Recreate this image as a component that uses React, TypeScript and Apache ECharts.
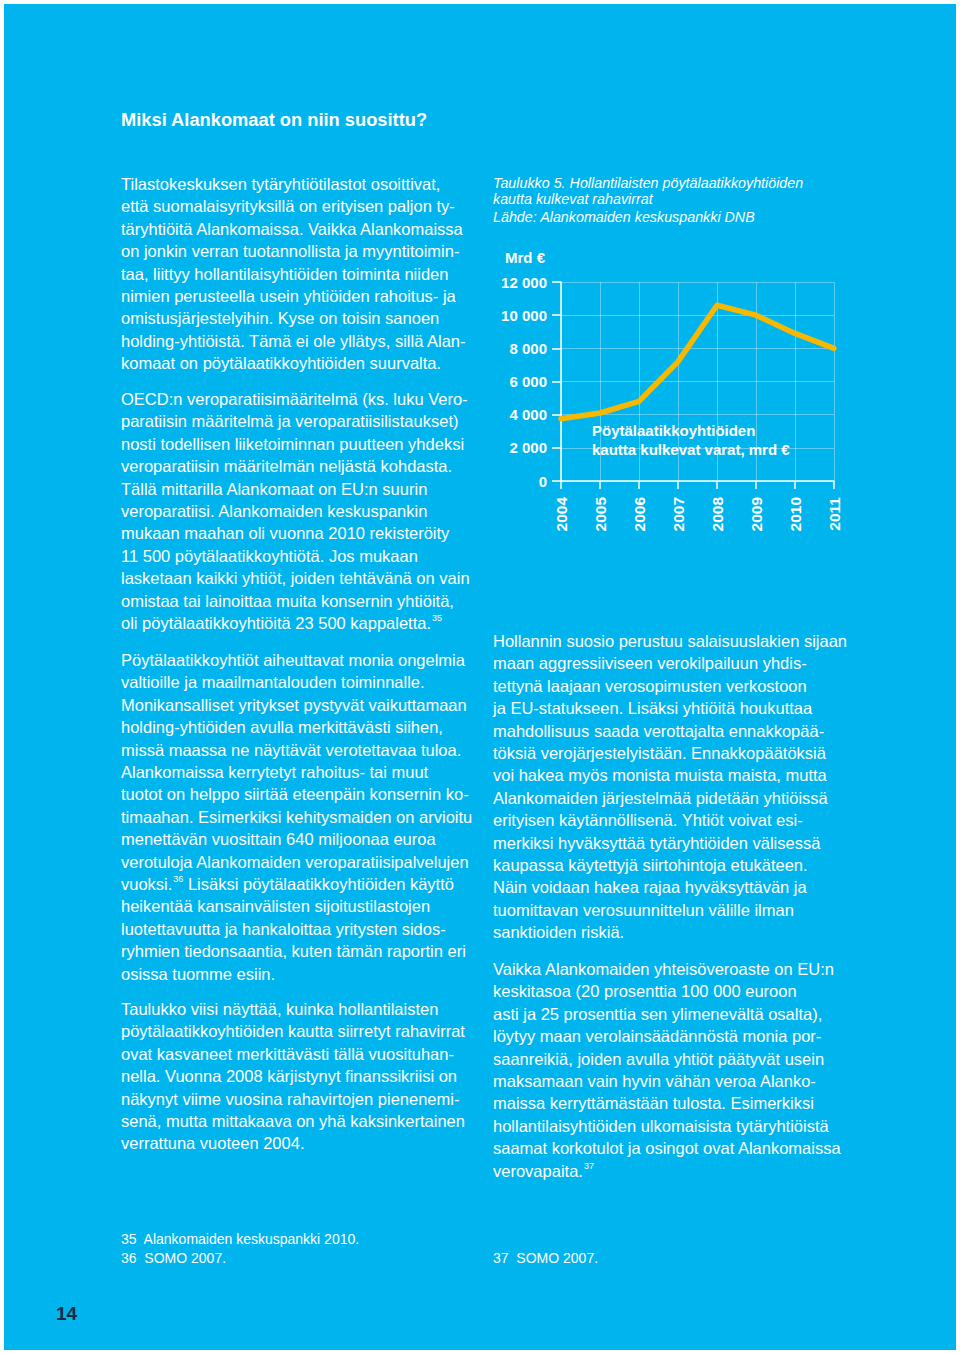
import React, { useEffect, useRef } from "react";
import * as echarts from "echarts";

const years = ["2004", "2005", "2006", "2007", "2008", "2009", "2010", "2011"];
const flows = [3750, 4100, 4800, 7200, 10600, 10000, 8900, 8000];
const yMin = 0;
const yMax = 12000;
const yStep = 2000;

const title = "Miksi Alankomaat on niin suosittu?";
const captionLines = [
  "Taulukko 5. Hollantilaisten pöytälaatikkoyhtiöiden",
  "kautta kulkevat rahavirrat",
  "Lähde: Alankomaiden keskuspankki DNB",
];
const unitLabel = "Mrd €";
const seriesLabel = ["Pöytälaatikkoyhtiöiden", "kautta kulkevat varat, mrd €"];

const leftP1 = [
  "Tilastokeskuksen tytäryhtiötilastot osoittivat,",
  "että suomalaisyrityksillä on erityisen paljon ty-",
  "täryhtiöitä Alankomaissa. Vaikka Alankomaissa",
  "on jonkin verran tuotannollista ja myyntitoimin-",
  "taa, liittyy hollantilaisyhtiöiden toiminta niiden",
  "nimien perusteella usein yhtiöiden rahoitus- ja",
  "omistusjärjestelyihin. Kyse on toisin sanoen",
  "holding-yhtiöistä. Tämä ei ole yllätys, sillä Alan-",
  "komaat on pöytälaatikkoyhtiöiden suurvalta.",
];
const leftP2 = [
  "OECD:n veroparatiisimääritelmä (ks. luku Vero-",
  "paratiisin määritelmä ja veroparatiisilistaukset)",
  "nosti todellisen liiketoiminnan puutteen yhdeksi",
  "veroparatiisin määritelmän neljästä kohdasta.",
  "Tällä mittarilla Alankomaat on EU:n suurin",
  "veroparatiisi. Alankomaiden keskuspankin",
  "mukaan maahan oli vuonna 2010 rekisteröity",
  "11 500 pöytälaatikkoyhtiötä. Jos mukaan",
  "lasketaan kaikki yhtiöt, joiden tehtävänä on vain",
  "omistaa tai lainoittaa muita konsernin yhtiöitä,",
  "oli pöytälaatikkoyhtiöitä 23 500 kappaletta.{sup|35}",
];
const leftP3 = [
  "Pöytälaatikkoyhtiöt aiheuttavat monia ongelmia",
  "valtioille ja maailmantalouden toiminnalle.",
  "Monikansalliset yritykset pystyvät vaikuttamaan",
  "holding-yhtiöiden avulla merkittävästi siihen,",
  "missä maassa ne näyttävät verotettavaa tuloa.",
  "Alankomaissa kerrytetyt rahoitus- tai muut",
  "tuotot on helppo siirtää eteenpäin konsernin ko-",
  "timaahan. Esimerkiksi kehitysmaiden on arvioitu",
  "menettävän vuosittain 640 miljoonaa euroa",
  "verotuloja Alankomaiden veroparatiisipalvelujen",
  "vuoksi.{sup|36} Lisäksi pöytälaatikkoyhtiöiden käyttö",
  "heikentää kansainvälisten sijoitustilastojen",
  "luotettavuutta ja hankaloittaa yritysten sidos-",
  "ryhmien tiedonsaantia, kuten tämän raportin eri",
  "osissa tuomme esiin.",
];
const leftP4 = [
  "Taulukko viisi näyttää, kuinka hollantilaisten",
  "pöytälaatikkoyhtiöiden kautta siirretyt rahavirrat",
  "ovat kasvaneet merkittävästi tällä vuosituhan-",
  "nella. Vuonna 2008 kärjistynyt finanssikriisi on",
  "näkynyt viime vuosina rahavirtojen pienenemi-",
  "senä, mutta mittakaava on yhä kaksinkertainen",
  "verrattuna vuoteen 2004.",
];
const rightP1 = [
  "Hollannin suosio perustuu salaisuuslakien sijaan",
  "maan aggressiiviseen verokilpailuun yhdis-",
  "tettynä laajaan verosopimusten verkostoon",
  "ja EU-statukseen. Lisäksi yhtiöitä houkuttaa",
  "mahdollisuus saada verottajalta ennakkopää-",
  "töksiä verojärjestelyistään. Ennakkopäätöksiä",
  "voi hakea myös monista muista maista, mutta",
  "Alankomaiden järjestelmää pidetään yhtiöissä",
  "erityisen käytännöllisenä. Yhtiöt voivat esi-",
  "merkiksi hyväksyttää tytäryhtiöiden välisessä",
  "kaupassa käytettyjä siirtohintoja etukäteen.",
  "Näin voidaan hakea rajaa hyväksyttävän ja",
  "tuomittavan verosuunnittelun välille ilman",
  "sanktioiden riskiä.",
];
const rightP2 = [
  "Vaikka Alankomaiden yhteisöveroaste on EU:n",
  "keskitasoa (20 prosenttia 100 000 euroon",
  "asti ja 25 prosenttia sen ylimenevältä osalta),",
  "löytyy maan verolainsäädännöstä monia por-",
  "saanreikiä, joiden avulla yhtiöt päätyvät usein",
  "maksamaan vain hyvin vähän veroa Alanko-",
  "maissa kerryttämästään tulosta. Esimerkiksi",
  "hollantilaisyhtiöiden ulkomaisista tytäryhtiöistä",
  "saamat korkotulot ja osingot ovat Alankomaissa",
  "verovapaita.{sup|37}",
];
const footLeft = ["35  Alankomaiden keskuspankki 2010.", "36  SOMO 2007."];
const footRight = ["37  SOMO 2007."];
const pageNumber = "14";

const FONT = "'Liberation Sans', Arial, Helvetica, sans-serif";
const BLUE = "#00B4EE";
const LINE = "#F9B800";
const BODY_SIZE = 16.5;
const BODY_LH = 22.4;

function para(lines: string[], x: number, firstCenter: number) {
  return {
    type: "text",
    x,
    y: firstCenter - BODY_LH / 2,
    style: {
      text: lines.join("\n"),
      fill: "#ffffff",
      fontFamily: FONT,
      fontSize: BODY_SIZE,
      lineHeight: BODY_LH,
      align: "left",
      verticalAlign: "top",
      rich: {
        sup: {
          fontSize: 9,
          fill: "#ffffff",
          fontFamily: FONT,
          lineHeight: BODY_LH,
          padding: [0, 0, 9, 1],
        },
      },
    },
  };
}

function txt(text: string, x: number, y: number, extra: any = {}) {
  return {
    type: "text",
    x,
    y,
    style: {
      text,
      fill: "#ffffff",
      fontFamily: FONT,
      fontSize: 14,
      align: "left",
      verticalAlign: "middle",
      ...extra,
    },
  };
}

export default function App() {
  const ref = useRef<HTMLDivElement>(null);
  useEffect(() => {
    document.body.style.margin = "0";
    if (!ref.current) return;
    const chart = echarts.init(ref.current, undefined, { renderer: "svg" });
    const fmt = (v: number) => {
      const s = String(Math.round(v));
      return s.replace(/\B(?=(\d{3})+(?!\d))/g, " ");
    };
    chart.setOption({
      animation: false,
      backgroundColor: "#ffffff",
      grid: { left: 561, right: 126, top: 282, bottom: 873, containLabel: false },
      xAxis: {
        type: "category",
        data: years,
        boundaryGap: false,
        axisLine: { show: true, lineStyle: { color: "#ffffff", width: 1.5 } },
        axisTick: { show: true, length: 8, lineStyle: { color: "#ffffff", width: 1.5 } },
        axisLabel: {
          rotate: 90,
          margin: 16,
          color: "#ffffff",
          fontFamily: FONT,
          fontWeight: "bold",
          fontSize: 15.5,
        },
        splitLine: { show: true, lineStyle: { color: "rgba(255,255,255,0.35)", width: 1 } },
      },
      yAxis: {
        type: "value",
        min: yMin,
        max: yMax,
        interval: yStep,
        axisLine: { show: true, lineStyle: { color: "#ffffff", width: 1.5 } },
        axisTick: { show: true, length: 9, lineStyle: { color: "#ffffff", width: 1.5 } },
        axisLabel: {
          margin: 14,
          color: "#ffffff",
          fontFamily: FONT,
          fontWeight: "bold",
          fontSize: 15,
          formatter: fmt,
        },
        splitLine: { show: true, lineStyle: { color: "rgba(255,255,255,0.35)", width: 1 } },
      },
      series: [
        {
          type: "line",
          data: flows,
          symbol: "none",
          lineStyle: { color: LINE, width: 5.5, join: "round", cap: "round" },
          z: 5,
        },
      ],
      graphic: [
        {
          type: "rect",
          z: -100,
          shape: { x: 4, y: 4, width: 952, height: 1346 },
          style: { fill: BLUE },
        },
        txt(title, 121, 119, { fontWeight: "bold", fontSize: 18.3 }),
        para(leftP1, 121, 184),
        para(leftP2, 121, 399),
        para(leftP3, 121, 660),
        para(leftP4, 121, 1009),
        para(rightP1, 493, 641),
        para(rightP2, 493, 969),
        txt(captionLines[0], 493, 183, { fontStyle: "italic", fontSize: 14.3 }),
        txt(captionLines[1], 493, 199, { fontStyle: "italic", fontSize: 14.3 }),
        txt(captionLines[2], 493, 217, { fontStyle: "italic", fontSize: 14.3 }),
        txt(unitLabel, 505, 257, { fontWeight: "bold", fontSize: 15 }),
        txt(seriesLabel[0], 592, 430, { fontWeight: "bold", fontSize: 15 }),
        txt(seriesLabel[1], 592, 449, { fontWeight: "bold", fontSize: 15 }),
        txt(footLeft[0], 121, 1239, { fontSize: 14 }),
        txt(footLeft[1], 121, 1258, { fontSize: 14 }),
        txt(footRight[0], 493, 1258, { fontSize: 14 }),
        txt(pageNumber, 56, 1313, { fontWeight: "bold", fontSize: 19, fill: "#1b2a3c" }),
      ],
    });
    return () => chart.dispose();
  }, []);
  return (
    <div
      ref={ref}
      style={{ position: "absolute", left: 0, top: 0, width: 960, height: 1354 }}
    />
  );
}
